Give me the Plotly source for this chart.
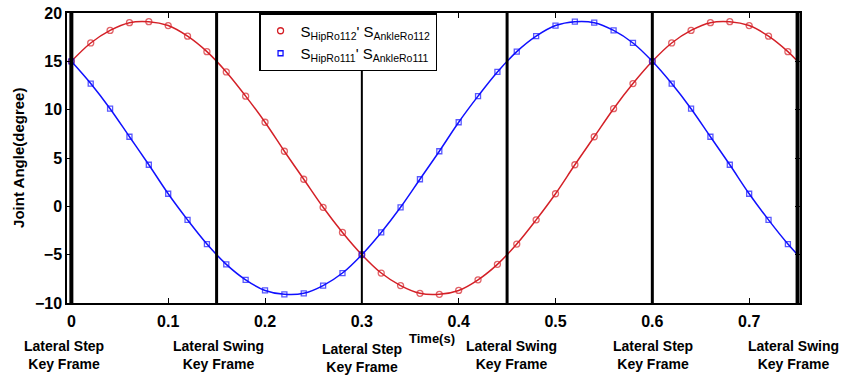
import plotly.graph_objects as go

# ---- data ----
time_s = [0.00, 0.02, 0.04, 0.06, 0.08, 0.10, 0.12, 0.14, 0.16, 0.18,
          0.20, 0.22, 0.24, 0.26, 0.28, 0.30, 0.32, 0.34, 0.36, 0.38,
          0.40, 0.42, 0.44, 0.46, 0.48, 0.50, 0.52, 0.54, 0.56, 0.58,
          0.60, 0.62, 0.64, 0.66, 0.68, 0.70, 0.72, 0.74, 0.75]
s112 = [15.0, 16.9, 18.2, 19.0, 19.1, 18.7, 17.6, 16.0, 13.9, 11.4,
        8.7, 5.7, 2.8, -0.1, -2.7, -5.0, -6.9, -8.2, -9.0, -9.1,
        -8.7, -7.6, -6.0, -3.9, -1.4, 1.3, 4.3, 7.2, 10.1, 12.7,
        15.0, 16.9, 18.2, 19.0, 19.1, 18.7, 17.6, 16.0, 15.0]
s111 = [15.0, 12.7, 10.1, 7.2, 4.3, 1.3, -1.4, -3.9, -6.0, -7.6,
        -8.7, -9.1, -9.0, -8.2, -6.9, -5.0, -2.7, -0.1, 2.8, 5.7,
        8.7, 11.4, 13.9, 16.0, 17.6, 18.7, 19.1, 19.0, 18.2, 16.9,
        15.0, 12.7, 10.1, 7.2, 4.3, 1.3, -1.4, -3.9, -5.0]
key_frames = [0.0, 0.15, 0.30, 0.45, 0.60, 0.75]
key_labels = ["Lateral Step<br>Key Frame", "Lateral Swing<br>Key Frame",
              "Lateral Step<br>Key Frame", "Lateral Swing<br>Key Frame",
              "Lateral Step<br>Key Frame", "Lateral Swing<br>Key Frame"]
x_ticks = [0, 0.1, 0.2, 0.3, 0.4, 0.5, 0.6, 0.7]
y_ticks = [-10, -5, 0, 5, 10, 15, 20]
legend_names = ["S<sub>HipRo112</sub>' S<sub>AnkleRo112</sub>",
                "S<sub>HipRo111</sub>' S<sub>AnkleRo111</sub>"]

RED = "#d42027"
BLUE = "#1010ff"
FONT = "Arial, Liberation Sans, sans-serif"

# no marker on the final (0.75 s) line end point
red_sizes = [6] * (len(time_s) - 1) + [0]
blue_sizes = [5] * (len(time_s) - 1) + [0]

fig = go.Figure()
fig.add_trace(go.Scatter(
    x=time_s, y=s112, mode="lines+markers", showlegend=False,
    line=dict(color=RED, width=1.5, shape="spline", smoothing=1),
    marker=dict(symbol="circle-open", size=red_sizes, color=RED, line=dict(width=1.3)),
))
fig.add_trace(go.Scatter(
    x=time_s, y=s111, mode="lines+markers", showlegend=False,
    line=dict(color=BLUE, width=1.5, shape="spline", smoothing=1),
    marker=dict(symbol="square-open", size=blue_sizes, color=BLUE, line=dict(width=1.3)),
))
# legend entries (marker only, as in the reference)
fig.add_trace(go.Scatter(x=[None], y=[None], mode="markers", name=legend_names[0],
                         marker=dict(symbol="circle-open", size=6, color=RED, line=dict(width=1.3))))
fig.add_trace(go.Scatter(x=[None], y=[None], mode="markers", name=legend_names[1],
                         marker=dict(symbol="square-open", size=5, color=BLUE, line=dict(width=1.3))))

# key frame vertical lines
widths = [4, 3, 2, 3, 3, 4]
for kf, w in zip(key_frames, widths):
    fig.add_shape(type="line", xref="x", yref="paper", x0=kf, x1=kf, y0=0, y1=1,
                  line=dict(color="black", width=w), layer="above")

# key frame labels below axis
shifts = [-7, 2, 0, 4, 1, -4]
yoffs = [-0.18, -0.18, -0.19, -0.18, -0.18, -0.18]
for kf, lab, xs, yo in zip(key_frames, key_labels, shifts, yoffs):
    fig.add_annotation(x=kf, y=yo, xref="x", yref="paper", text="<b>" + lab + "</b>",
                       showarrow=False, xanchor="center", yanchor="middle", xshift=xs,
                       font=dict(family=FONT, size=14, color="black"), align="center")

# axis titles
fig.add_annotation(x=0.498, y=-0.124, xref="paper", yref="paper", text="<b>Time(s)</b>",
                   showarrow=False, xanchor="center", yanchor="middle",
                   font=dict(family=FONT, size=13, color="black"))
fig.add_annotation(x=-0.067, y=0.5, xref="paper", yref="paper",
                   text="<b>Joint Angle(degree)</b>", textangle=-90,
                   showarrow=False, xanchor="center", yanchor="middle",
                   font=dict(family=FONT, size=15, color="black"))

axis_common = dict(showgrid=False, zeroline=False, showline=True, linecolor="black",
                   linewidth=1.5, mirror="ticks", ticks="inside", ticklen=5,
                   tickcolor="black", tickwidth=1, automargin=False,
                   tickfont=dict(family=FONT, size=16, color="black", weight="bold"))
fig.update_xaxes(range=[-0.0045, 0.7525], tickvals=x_ticks,
                 ticktext=[str(v) for v in x_ticks], ticklabelstandoff=3, **axis_common)
fig.update_yaxes(range=[-10, 20], tickvals=y_ticks, **axis_common)

fig.update_layout(
    width=842, height=376,
    margin=dict(l=67, r=42, t=13, b=73, autoexpand=False),
    plot_bgcolor="white", paper_bgcolor="white",
    font=dict(family=FONT, color="black"),
    legend=dict(x=0.262, y=1.0, xanchor="left", yanchor="top",
                bgcolor="white", bordercolor="black", borderwidth=1.5,
                font=dict(family=FONT, size=15, color="black"),
                tracegroupgap=0, itemwidth=30),
    showlegend=True,
)

fig.write_html("out.html", config={"displayModeBar": False},
               post_script="document.body.style.margin='0';")
